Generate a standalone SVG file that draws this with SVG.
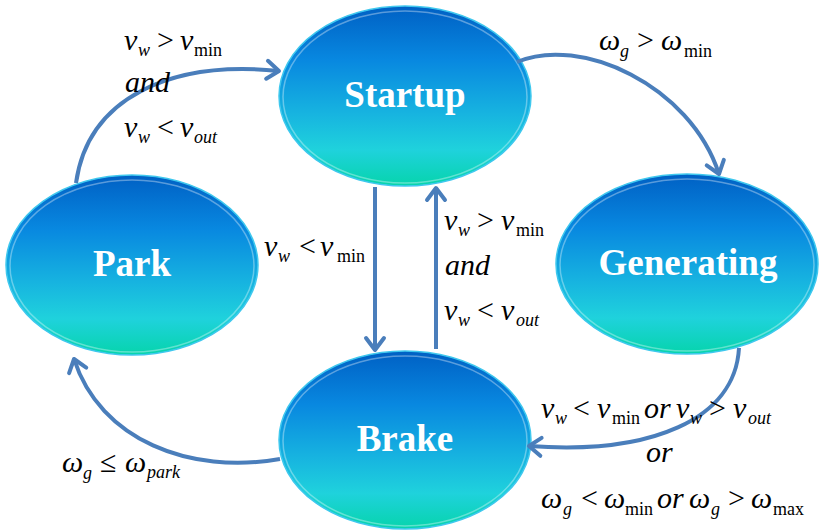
<svg xmlns="http://www.w3.org/2000/svg" width="823" height="531" viewBox="0 0 823 531">
  <defs>
    <linearGradient id="nodeFill" x1="0" y1="0" x2="0" y2="1">
      <stop offset="0" stop-color="#0060c4"/>
      <stop offset="0.3" stop-color="#0888e0"/>
      <stop offset="0.6" stop-color="#17b4e0"/>
      <stop offset="0.8" stop-color="#1fd2dc"/>
      <stop offset="1" stop-color="#06d4ac"/>
    </linearGradient>
    <marker id="chev" markerUnits="userSpaceOnUse" markerWidth="30" markerHeight="30" viewBox="-15 -15 30 30" refX="0" refY="0" orient="auto" overflow="visible">
      <path d="M -12 -9 L 0 0 L -12 9" fill="none" stroke="#4a7ebb" stroke-width="4" stroke-linecap="round" stroke-linejoin="round"/>
    </marker>
  </defs>
  <style>
    .node ellipse.body { fill: url(#nodeFill); stroke: #3fc8ee; stroke-width: 1.5; }
    .node ellipse.rim { fill: none; stroke: #ffffff; stroke-opacity: 0.35; stroke-width: 1.5; }
    .node text { font-family: "Liberation Serif", "Times New Roman", "DejaVu Serif", serif; font-weight: bold; font-size: 37px; fill: #ffffff; text-anchor: middle; }
    .edge { fill: none; stroke: #4a7ebb; stroke-width: 4; marker-end: url(#chev); }
    .lbl { font-family: "Liberation Serif", "Times New Roman", "DejaVu Serif", serif; font-size: 30px; fill: #000000; }
    .i { font-style: italic; }
    .s { font-size: 18px; }
  </style>

  <!-- state nodes -->
  <g id="startup" class="node">
    <ellipse class="body" cx="405" cy="96" rx="126" ry="90"/>
    <ellipse class="rim" cx="405" cy="97" rx="122" ry="86"/>
    <text x="405" y="107">Startup</text>
  </g>
  <g id="park" class="node">
    <ellipse class="body" cx="132" cy="265" rx="126" ry="90"/>
    <ellipse class="rim" cx="132" cy="266" rx="122" ry="86"/>
    <text x="132" y="276">Park</text>
  </g>
  <g id="generating" class="node">
    <ellipse class="body" cx="687" cy="264" rx="131" ry="90"/>
    <ellipse class="rim" cx="687" cy="265" rx="127" ry="86"/>
    <text x="688" y="275">Generating</text>
  </g>
  <g id="brake" class="node">
    <ellipse class="body" cx="405" cy="440" rx="126" ry="89"/>
    <ellipse class="rim" cx="405" cy="441" rx="122" ry="85"/>
    <text x="405" y="451">Brake</text>
  </g>

  <!-- transitions -->
  <g id="connectors">
    <path class="edge" d="M 76 183 C 88 98, 170 60, 279 71"/>
    <path class="edge" d="M 517 62 C 580 35, 690 85, 719 174"/>
    <path class="edge" d="M 739 348 C 735 420, 650 455, 529 446"/>
    <path class="edge" d="M 280 459 C 190 475, 100 440, 74 359"/>
    <path class="edge" d="M 375 187 L 375 350"/>
    <path class="edge" d="M 436 349 L 436 188"/>
  </g>

  <!-- transition conditions -->
  <g id="labels">
    <!-- Park -> Startup -->
    <text class="lbl"><tspan class="i" x="124" y="50">v</tspan><tspan class="i s" x="138" y="56">w</tspan><tspan x="157" y="50">&gt;</tspan><tspan class="i" x="180" y="50">v</tspan><tspan class="s" x="194" y="56">min</tspan></text>
    <text class="lbl i" x="125" y="92">and</text>
    <text class="lbl"><tspan class="i" x="124" y="137">v</tspan><tspan class="i s" x="138" y="143">w</tspan><tspan x="157" y="137">&lt;</tspan><tspan class="i" x="180" y="137">v</tspan><tspan class="i s" x="194" y="143">out</tspan></text>

    <!-- Startup -> Generating -->
    <text class="lbl"><tspan class="i" x="599" y="50">ω</tspan><tspan class="i s" x="620" y="57">g</tspan><tspan x="637" y="50">&gt;</tspan><tspan class="i" x="661" y="50">ω</tspan><tspan class="s" x="684" y="57">min</tspan></text>

    <!-- Startup -> Brake -->
    <text class="lbl"><tspan class="i" x="264" y="256">v</tspan><tspan class="i s" x="278" y="262">w</tspan><tspan x="299" y="256">&lt;</tspan><tspan class="i" x="320" y="256">v</tspan><tspan class="s" x="337" y="262">min</tspan></text>

    <!-- Brake -> Startup -->
    <text class="lbl"><tspan class="i" x="444" y="230">v</tspan><tspan class="i s" x="458" y="236">w</tspan><tspan x="477" y="230">&gt;</tspan><tspan class="i" x="501" y="230">v</tspan><tspan class="s" x="516" y="236">min</tspan></text>
    <text class="lbl i" x="445" y="275">and</text>
    <text class="lbl"><tspan class="i" x="444" y="320">v</tspan><tspan class="i s" x="458" y="326">w</tspan><tspan x="477" y="320">&lt;</tspan><tspan class="i" x="501" y="320">v</tspan><tspan class="i s" x="516" y="326">out</tspan></text>

    <!-- Brake -> Park -->
    <text class="lbl"><tspan class="i" x="62" y="472">ω</tspan><tspan class="i s" x="83" y="479">g</tspan><tspan x="100" y="472">≤</tspan><tspan class="i" x="125" y="472">ω</tspan><tspan class="i s" x="147" y="478">park</tspan></text>

    <!-- Generating -> Brake -->
    <text class="lbl"><tspan class="i" x="541" y="418">v</tspan><tspan class="i s" x="555" y="424">w</tspan><tspan x="573" y="418">&lt;</tspan><tspan class="i" x="597" y="418">v</tspan><tspan class="s" x="612" y="424">min</tspan><tspan class="i" x="644" y="418">or</tspan><tspan class="i" x="676" y="418">v</tspan><tspan class="i s" x="690" y="424">w</tspan><tspan x="709" y="418">&gt;</tspan><tspan class="i" x="733" y="418">v</tspan><tspan class="i s" x="748" y="424">out</tspan></text>
    <text class="lbl i" x="646" y="462">or</text>
    <text class="lbl"><tspan class="i" x="541" y="508">ω</tspan><tspan class="i s" x="563" y="515">g</tspan><tspan x="581" y="508">&lt;</tspan><tspan class="i" x="604" y="508">ω</tspan><tspan class="s" x="625" y="515">min</tspan><tspan class="i" x="657" y="508">or</tspan><tspan class="i" x="689" y="508">ω</tspan><tspan class="i s" x="711" y="515">g</tspan><tspan x="728" y="508">&gt;</tspan><tspan class="i" x="751" y="508">ω</tspan><tspan class="s" x="773" y="515">max</tspan></text>
  </g>
</svg>
